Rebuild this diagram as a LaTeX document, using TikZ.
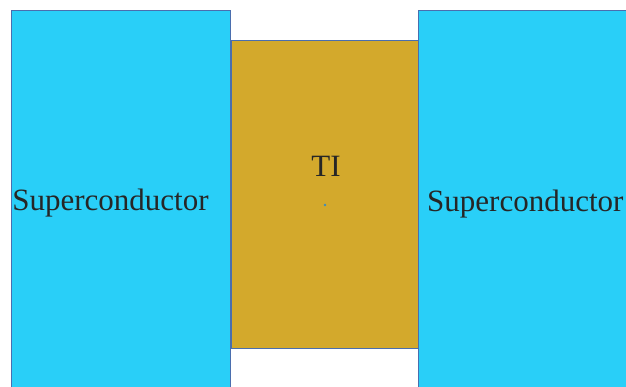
\documentclass[tikz,border=0pt]{standalone}
\usepackage{fontspec}
\setmainfont{Liberation Serif}
\definecolor{sccyan}{HTML}{29CFF8}
\definecolor{tigold}{HTML}{D3A92C}
\definecolor{edgeblue}{HTML}{4A6EAE}
\definecolor{txt}{HTML}{262626}
\begin{document}
\begin{tikzpicture}[x=1pt,y=-1pt,
  scbox/.style={fill=sccyan,draw=edgeblue,line width=0.9pt},
  tibox/.style={fill=tigold,draw=edgeblue,line width=0.9pt},
  lbl/.style={font=\fontsize{31}{33}\selectfont,text=txt,inner sep=0pt}]
\useasboundingbox (0,0) rectangle (626,387);
\clip (0,0) rectangle (626,387);
\fill[white] (0,0) rectangle (626,387);
\draw[scbox] (11,10) rectangle (230,400);
\draw[scbox] (418,10) rectangle (640,400);
\draw[tibox] (231,40) rectangle (418,348);
\node[lbl,anchor=base] (left) at (110.5,211) {Superconductor};
\node[lbl,anchor=base west] (right) at (427,212) {Superconductor};
\node[lbl,anchor=base] (ti) at (326,177) {TI};
\fill[edgeblue!80!cyan] (325,205) circle (1.3);
\end{tikzpicture}
\end{document}
